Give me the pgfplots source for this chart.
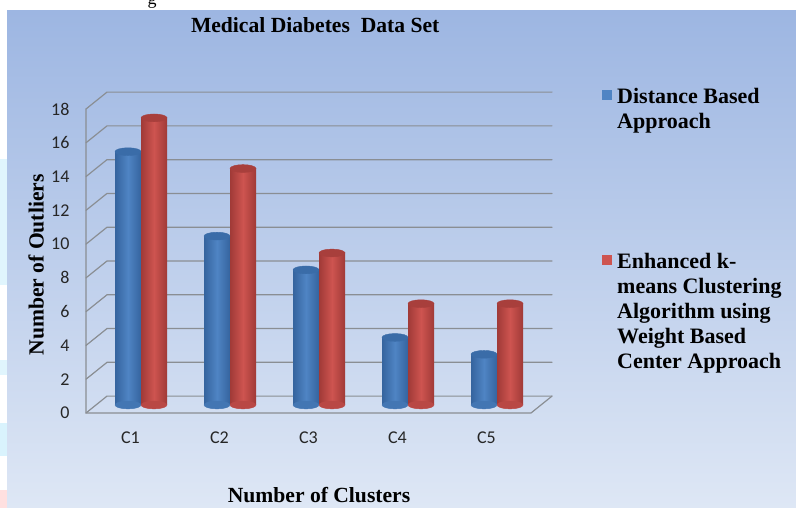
\documentclass[border=0pt]{standalone}
\usepackage{fontspec}
\setmainfont{Liberation Serif}
\newfontfamily\carlito{Carlito}
\usepackage{pgfplots}
\usepackage{pgfplotstable}
\pgfplotsset{compat=1.18}
\definecolor{bgtop}{HTML}{9DB6E2}
\definecolor{bgbot}{HTML}{DEE7F5}
\definecolor{gridc}{HTML}{8A8E93}
\definecolor{bluemid}{HTML}{4F84C4}
\definecolor{blueedge}{HTML}{35649E}
\definecolor{bluetop}{HTML}{3A6CA8}
\definecolor{redmid}{HTML}{CE5450}
\definecolor{rededge}{HTML}{A03A37}
\definecolor{redtop}{HTML}{A83F3C}
\pgfplotstableread{
x blue red
0 15 17
1 10 14
2 8 9
3 4 6
4 3 6
}\data
\pgfplotsset{
  frameset/.style={
    at={(86pt,95pt)}, anchor=south west,
    width=445pt, height=304pt, scale only axis,
    xmin=-0.5, xmax=4.5, ymin=0, ymax=18, clip=false,
  },
  wall/.style={gridc, line width=1.2pt, line cap=round, forget plot},
  bluebar/.style={ybar, bar width=26pt, bar shift=-13pt, draw=none, left color=blueedge, right color=blueedge, middle color=bluemid},
  redbar/.style={ybar, bar width=26pt, bar shift=13pt, draw=none, left color=rededge, right color=rededge, middle color=redmid},
}
\newcommand\onebar[3]{\addplot[#1bar, forget plot, restrict x to domain=#3:#3] table[x=x, y=#2] {\data};}
\begin{document}
\begin{tikzpicture}[x=1pt,y=1pt]
\useasboundingbox (0,0) rectangle (796,508);
\fill[white] (0,0) rectangle (796,508);
\fill[cyan!12] (0,223) rectangle (7,349);
\fill[cyan!12] (0,133) rectangle (7,148);
\fill[cyan!15] (0,52) rectangle (7,85);
\fill[red!12] (0,0) rectangle (7,18);
\shade[top color=bgtop, bottom color=bgbot] (7,0) rectangle (796,497);
\node[anchor=base, inner sep=0pt] at (152,503) {\fontsize{18}{20}\selectfont g};
\begin{axis}[frameset,
  axis line style={draw=none}, tick style={draw=none},
  xtick={0,1,2,3,4}, xticklabels={C1,C2,C3,C4,C5},
  ytick={0,2,...,18},
  /pgf/number format/assume math mode=true,
  ticklabel style={font=\carlito\fontsize{18}{20}\selectfont, text=black!85},
  xticklabel style={yshift=-15pt},
  yticklabel style={xshift=-13pt},
  title={\fontsize{21.6}{24}\selectfont\bfseries Medical Diabetes\ \ Data Set},
  title style={at={(axis description cs:0.515,1.2566)}, anchor=center},
  xlabel={\fontsize{21.6}{24}\selectfont\bfseries Number of Clusters},
  xlabel style={at={(axis description cs:0.5236,-0.27)}, anchor=center},
  ylabel={\fontsize{21.6}{24}\selectfont\bfseries Number of Outliers},
  ylabel style={at={(axis description cs:-0.112,0.487)}, anchor=center, rotate=0},
]
\addplot[wall] coordinates {(-0.5,0)(-0.264,1)(4.736,1)};
\addplot[wall] coordinates {(-0.5,2)(-0.264,3)(4.736,3)};
\addplot[wall] coordinates {(-0.5,4)(-0.264,5)(4.736,5)};
\addplot[wall] coordinates {(-0.5,6)(-0.264,7)(4.736,7)};
\addplot[wall] coordinates {(-0.5,8)(-0.264,9)(4.736,9)};
\addplot[wall] coordinates {(-0.5,10)(-0.264,11)(4.736,11)};
\addplot[wall] coordinates {(-0.5,12)(-0.264,13)(4.736,13)};
\addplot[wall] coordinates {(-0.5,14)(-0.264,15)(4.736,15)};
\addplot[wall] coordinates {(-0.5,16)(-0.264,17)(4.736,17)};
\addplot[wall] coordinates {(-0.5,18)(-0.264,19)(4.736,19)};
\addplot[wall] coordinates {(-0.5,18)(-0.5,0)(4.5,0)(4.736,1)};
\end{axis}
\begin{axis}[frameset,
  at={(96.5pt,103pt)},
  axis lines=none,
  legend style={at={(axis cs:5.18,18.78)}, anchor=north west, draw=none, fill=none,
    inner sep=0pt, row sep=148pt, /tikz/column sep=5pt, font=\fontsize{22}{25}\selectfont\bfseries,
    nodes={inner sep=0pt}},
  legend cell align=left,
]
\addplot[only marks, forget plot, mark=*, mark size=13pt,
  mark options={xshift=-13pt, yscale=0.3, draw=blueedge!45!bluemid, fill=blueedge!45!bluemid}]
  table[x=x, y expr=0] {\data};
\addplot[only marks, forget plot, mark=*, mark size=13pt,
  mark options={xshift=13pt, yscale=0.3, draw=rededge!45!redmid, fill=rededge!45!redmid}]
  table[x=x, y expr=0] {\data};
\onebar{blue}{blue}{0}\onebar{blue}{blue}{1}\onebar{blue}{blue}{2}\onebar{blue}{blue}{3}\onebar{blue}{blue}{4}
\addplot[only marks, forget plot, mark=*, mark size=13pt,
  mark options={xshift=-13pt, yscale=0.3, draw=bluetop, fill=bluetop}]
  table[x=x, y=blue] {\data};
\onebar{red}{red}{0}\onebar{red}{red}{1}\onebar{red}{red}{2}\onebar{red}{red}{3}\onebar{red}{red}{4}
\addplot[only marks, forget plot, mark=*, mark size=13pt,
  mark options={xshift=13pt, yscale=0.3, draw=redtop, fill=redtop}]
  table[x=x, y=red] {\data};
% legend entries
\addplot[draw=none, area legend,
  legend image code/.code={\fill[bluemid] (0pt,-4pt) rectangle (10pt,6pt);}]
  coordinates {(0,0)};
\addlegendentry{\parbox[t]{170pt}{Distance Based\\Approach}}
\addplot[draw=none, area legend,
  legend image code/.code={\fill[redmid] (0pt,-4pt) rectangle (10pt,6pt);}]
  coordinates {(0,0)};
\addlegendentry{\parbox[t]{170pt}{Enhanced k-\\means Clustering\\Algorithm using\\Weight Based\\Center Approach}}
\end{axis}
\end{tikzpicture}
\end{document}
